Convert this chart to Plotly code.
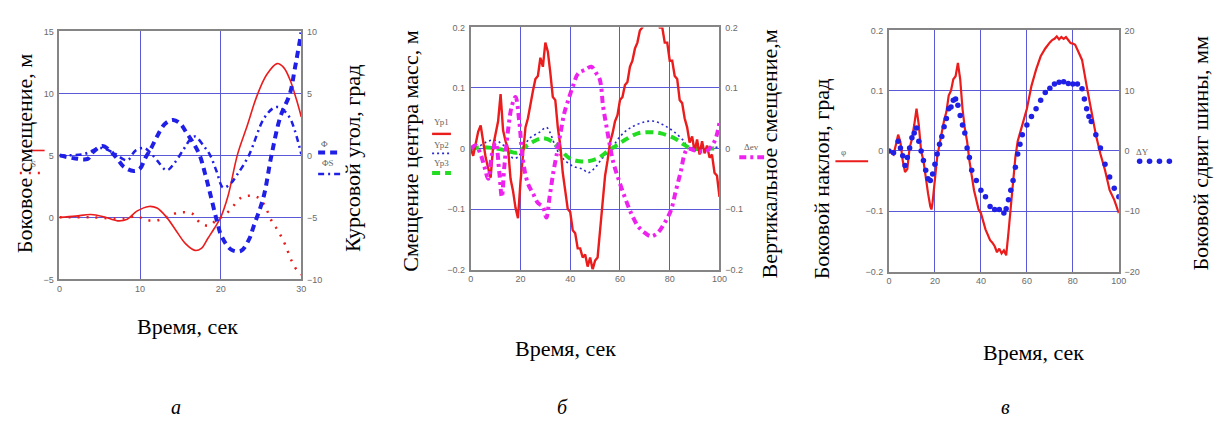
import plotly.graph_objects as go

W, H = 1219, 424

# ---------------- Panel a ----------------
a_x_ticks = [0, 10, 20, 30]
a_yl_ticks = [-5, 0, 5, 10, 15]
a_yr_ticks = [-10, -5, 0, 5, 10]

a_Y_t = [0, 2, 3.9, 5.5, 7.2, 8.4, 9.6, 11.1, 12.1, 13.3, 14.6, 15.6, 16.8, 17.6, 18.4, 19.2, 20,
         20.9, 22.1, 23.3, 24.5, 25.7, 27, 27.8, 28.6, 29.4, 30]
a_Y_v = [0, 0.1, 0.23, 0.05, -0.28, -0.15, 0.5, 0.88, 0.75, 0, -1.2, -2.1, -2.66, -2.5, -1.7, -0.9, 0,
         1.7, 5.1, 7.4, 9.8, 11.5, 12.4, 12.1, 11.1, 9.5, 8.1]

a_S_t = [0, 4, 8, 9.6, 10.5, 11.7, 12.9, 13.7, 14.6, 15.6, 16.6, 17.4, 18.5, 19.5, 20.3, 21.2, 22.5,
         23.7, 24.7, 25.5, 26.3, 27.2, 28, 28.8, 29.5, 30]
a_S_v = [0, 0, -0.1, 0.1, -0.15, -0.28, -0.1, 0.15, 0.36, 0.41, 0.25, -0.41, -0.67, -0.2, 0.1, 0.62, 1.57,
         1.75, 1.57, 0.9, -0.26, -1.17, -2.2, -3.5, -4.3, -4.6]

a_Phi_t = [0, 1.8, 3.5, 4.1, 5.3, 6.3, 7.2, 8, 9.2, 10, 10.7, 11.3, 12.1, 13.1, 14.1, 15, 15.8, 16.6,
           17.4, 18.1, 18.7, 19.5, 20.1, 21.3, 22.5, 23.5, 24.1, 25.3, 26.3, 27.4, 28.6, 29.2, 30]
a_Phi_v = [0, -0.23, -0.28, 0.23, 0.75, 0.36, -0.3, -0.93, -1.26, -1.06, -0.15, 0.49, 1.52, 2.55, 2.86,
           2.55, 1.78, 1.0, 0, -1.57, -3.1, -5.2, -6.5, -7.6, -7.7, -6.8, -5.7, -3.4, 0, 3.1, 5, 7, 9.9]

a_PhiS_t = [0, 3, 5.1, 6.7, 8.4, 9.4, 10.5, 11.3, 12.1, 13.3, 14.2, 15.4, 16.2, 16.8, 17.9, 18.7, 19.5,
            20.3, 21.2, 22, 23.5, 25.3, 26.5, 27.2, 27.8, 28.6, 29.2, 30]
a_PhiS_v = [0, 0.1, 0.6, 0.2, -0.4, 0.36, 0.6, 0.2, -0.41, -1.2, -0.67, 0.49, 1.26, 1.52, 0.75, 0, -1.3,
            -2.6, -2.3, -1.6, 0, 2.9, 3.8, 3.9, 3.65, 3.0, 2.0, 0.1]

# ---------------- Panel b ----------------
b_x_ticks = [0, 20, 40, 60, 80, 100]
b_y_ticks = [-0.2, -0.1, 0, 0.1, 0.2]

b_Yp1_t = list(range(0, 101))
b_Yp1_v = [0, -0.012, 0.008, 0.028, 0.038, 0.012, -0.015, -0.032, -0.048, 0.004,
           0.024, 0.045, 0.09, 0.03, 0.012, 0.0, -0.05, -0.07, -0.098, -0.115,
           -0.055, -0.015, 0.035, 0.05, 0.075, 0.095, 0.115, 0.12, 0.15, 0.135,
           0.175, 0.16, 0.125, 0.085, 0.08, 0.035, 0.005, -0.04, -0.07, -0.1,
           -0.105, -0.135, -0.14, -0.165, -0.165, -0.18, -0.175, -0.195, -0.18, -0.2,
           -0.185, -0.18, -0.135, -0.09, -0.045, -0.02, 0.01, 0.025, 0.045, 0.055,
           0.08, 0.085, 0.105, 0.11, 0.135, 0.145, 0.165, 0.175, 0.195, 0.2,
           0.215, 0.21, 0.225, 0.21, 0.22, 0.215, 0.2, 0.2, 0.175, 0.175,
           0.145, 0.145, 0.12, 0.115, 0.08, 0.075, 0.05, 0.035, 0.01, 0.02,
           -0.005, 0.015, -0.01, 0.012, -0.008, 0.005, -0.015, -0.01, -0.04, -0.045,
           -0.08]

b_Yp2_t = [0, 3, 6.4, 9, 11.7, 14.4, 17, 19, 21, 23.7, 27.7, 30.4, 31.7, 34.4, 37, 41, 45, 47.2, 49.9,
           52.5, 56.5, 60.5, 64.5, 69.9, 73.9, 77.9, 81.9, 85.9, 87.2, 90, 95, 100]
b_Yp2_v = [0, 0.003, 0.011, 0.014, 0.01, 0, -0.016, -0.014, 0, 0.017, 0.027, 0.035, 0.028, 0, -0.016,
           -0.029, -0.034, -0.04, -0.032, -0.018, 0, 0.022, 0.035, 0.044, 0.045, 0.038, 0.027, 0.011, 0,
           0.002, 0.0, 0.003]

b_Yp3_t = [0, 5, 10.4, 15, 18.4, 21, 25, 29, 33, 35.7, 39.7, 43.7, 47.2, 51.2, 55.2, 57.9, 61.9, 67.2,
           72.5, 76.5, 81.9, 85.9, 88.5, 95, 100]
b_Yp3_v = [0, 0.002, 0.0, -0.004, -0.007, 0, 0.011, 0.017, 0.011, 0, -0.016, -0.021, -0.021, -0.016,
           -0.004, 0.003, 0.014, 0.025, 0.027, 0.025, 0.017, 0.006, 0, 0, 0]

b_dev_t = [0, 2, 4, 5.5, 7, 8.5, 10, 11.5, 12.5, 13.5, 15, 16.5, 18, 19.5, 21, 23, 25, 27, 29, 30.4,
           31.7, 33.3, 35, 36.4, 37.7, 39.7, 41, 43.2, 45.9, 48.5, 50.5, 51.9, 53.2, 54.5, 55.9, 57.2,
           59.2, 61.9, 64.5, 67.2, 69.9, 72.5, 75.2, 77.9, 80.5, 82.5, 84.5, 85.9, 87.2, 89.9, 92.5,
           95.2, 97.9, 99.2, 100]
b_dev_v = [0, 0.005, -0.01, -0.03, -0.05, -0.01, 0.01, -0.04, -0.08, -0.03, 0.03, 0.07, 0.085, 0.045,
           -0.02, -0.058, -0.074, -0.09, -0.096, -0.114, -0.08, -0.037, 0, 0.033, 0.06, 0.086, 0.102,
           0.124, 0.13, 0.135, 0.124, 0.114, 0.07, 0.038, 0.006, -0.021, -0.048, -0.08, -0.107, -0.128,
           -0.139, -0.145, -0.139, -0.123, -0.102, -0.069, -0.037, -0.01, 0, -0.003, -0.005, -0.003,
           0.011, 0.027, 0.043]

# ---------------- Panel c ----------------
c_x_ticks = [0, 20, 40, 60, 80, 100]
c_yl_ticks = [-0.2, -0.1, 0, 0.1, 0.2]
c_yr_ticks = [-20, -10, 0, 10, 20]

c_phi_t = [0, 1, 2, 3, 4, 5, 6, 7, 8, 9, 10, 11, 12, 13, 14, 15, 16, 17, 18, 18.5, 19, 20, 21, 22, 23,
           24, 25, 26, 27, 28, 29, 30, 31, 32, 33, 34, 35, 36, 37, 38, 39, 40, 42, 44, 45, 46, 47, 48,
           49, 50, 51, 52, 53, 54, 55, 56, 58, 60, 62, 64, 66, 68, 70, 71, 72, 73, 74, 75, 76, 77, 78,
           79, 80, 81, 82, 84, 86, 88, 90, 92, 94, 96, 98, 100]
c_phi_v = [0, -0.003, -0.006, 0.01, 0.027, 0.015, -0.016, -0.035, -0.03, 0.005, 0.02, 0.043, 0.07,
           0.043, 0.0, -0.016, -0.048, -0.07, -0.092, -0.097, -0.085, -0.048, -0.01, 0.011, 0.032,
           0.051, 0.065, 0.092, 0.1, 0.119, 0.124, 0.146, 0.119, 0.07, 0.038, 0.016, -0.016, -0.043,
           -0.065, -0.081, -0.097, -0.103, -0.13, -0.148, -0.152, -0.158, -0.168, -0.162, -0.17,
           -0.165, -0.173, -0.135, -0.092, -0.049, -0.01, 0.016, 0.043, 0.07, 0.108, 0.135, 0.157,
           0.17, 0.18, 0.184, 0.186, 0.19, 0.185, 0.189, 0.186, 0.189, 0.184, 0.179, 0.178, 0.176,
           0.168, 0.151, 0.108, 0.065, 0.027, -0.005, -0.032, -0.065, -0.081, -0.103]

c_dY_t = [0, 2, 4, 5, 6, 7, 8, 9, 10, 11, 12, 13, 14, 15, 16, 17, 18, 19, 20, 21, 22, 23, 24, 25, 26,
          27, 28, 29, 30, 31, 32, 33, 34, 35, 36, 38, 40, 42, 44, 46, 48, 50, 51, 52, 53, 54, 55, 56,
          57, 58, 60, 62, 64, 66, 68, 70, 72, 74, 76, 78, 80, 82, 84, 85, 86, 87, 88, 90, 92, 94, 96,
          98, 100]
c_dY_v = [0, -0.3, 1.6, 0.5, -0.8, -2.4, -1.1, 0.5, 2.2, 3.0, 3.8, 1.6, 0, -1.6, -3.2, -4.6, -4.9,
          -3.8, -2.2, -0.5, 1.1, 2.4, 4.0, 5.4, 7.0, 7.3, 8.4, 8.6, 7.6, 5.9, 4.3, 3.0, 0.5, -1.1, -3.2,
          -4.9, -6.5, -7.6, -9.2, -9.7, -9.7, -10.3, -9.6, -8.1, -6.5, -4.9, -2.7, -0.5, 1.1, 2.7, 4.3,
          5.7, 7.0, 8.4, 9.7, 10.4, 11.1, 11.4, 11.5, 11.2, 11.1, 11.1, 10.3, 8.6, 7.0, 5.7, 4.9, 2.7,
          0.5, -2.2, -4.3, -6.2, -7.6]

# ---------------- styling ----------------
RED = "#ea1c1c"
BLUE = "#1f1fe6"
MAG = "#ee22ee"
GREEN = "#22dd22"
GRID = "#5a5ad8"
FRAME = "#858585"
TICKF = dict(family="Liberation Sans, Arial", size=9, color="#6a6a6a")
SERIF = "Liberation Serif"


def px(x):
    return x / W


def py(y):
    return 1 - y / H


fig = go.Figure()

# panel a traces
fig.add_trace(go.Scatter(x=a_Y_t, y=a_Y_v, mode="lines", line=dict(color=RED, width=1.6, shape="spline"),
                         xaxis="x", yaxis="y"))
fig.add_trace(go.Scatter(x=a_S_t, y=a_S_v, mode="lines",
                         line=dict(color=RED, width=2.5, dash="2px,7px", shape="spline"), xaxis="x", yaxis="y"))
fig.add_trace(go.Scatter(x=a_Phi_t, y=a_Phi_v, mode="lines",
                         line=dict(color=BLUE, width=4, dash="7px,5px", shape="spline"), xaxis="x", yaxis="y2"))
fig.add_trace(go.Scatter(x=a_PhiS_t, y=a_PhiS_v, mode="lines",
                         line=dict(color=BLUE, width=2.5, dash="6px,4px,2px,4px", shape="spline"),
                         xaxis="x", yaxis="y2"))

# panel b traces
fig.add_trace(go.Scatter(x=b_dev_t, y=b_dev_v, mode="lines",
                         line=dict(color=MAG, width=4, dash="7px,4px,3px,4px", shape="spline"),
                         xaxis="x2", yaxis="y4"))
fig.add_trace(go.Scatter(x=b_Yp2_t, y=b_Yp2_v, mode="lines",
                         line=dict(color="#2a2ad0", width=1.6, dash="2px,3px", shape="spline"),
                         xaxis="x2", yaxis="y3"))
fig.add_trace(go.Scatter(x=b_Yp3_t, y=b_Yp3_v, mode="lines",
                         line=dict(color=GREEN, width=4, dash="8px,5px", shape="spline"),
                         xaxis="x2", yaxis="y3"))
fig.add_trace(go.Scatter(x=b_Yp1_t, y=b_Yp1_v, mode="lines", line=dict(color=RED, width=2.4),
                         xaxis="x2", yaxis="y3"))

# panel c traces
fig.add_trace(go.Scatter(x=c_phi_t, y=c_phi_v, mode="lines", line=dict(color=RED, width=2.2),
                         xaxis="x3", yaxis="y5"))
fig.add_trace(go.Scatter(x=c_dY_t, y=c_dY_v, mode="markers",
                         marker=dict(color=BLUE, size=5.5), xaxis="x3", yaxis="y6"))


def xax(dom, rng, ticks, anchor):
    return dict(domain=dom, range=rng, tickvals=ticks, showgrid=True, gridcolor=GRID, gridwidth=1,
                showline=True, linecolor=FRAME, linewidth=1.8, mirror=True, zeroline=False,
                ticks="", tickfont=TICKF, anchor=anchor, fixedrange=True)


def yax(dom, rng, ticks, anchor, side="left", overlay=None):
    d = dict(range=rng, tickvals=ticks, showline=True, linecolor=FRAME, linewidth=1.8, zeroline=False,
             ticks="", tickfont=TICKF, anchor=anchor, side=side, fixedrange=True, ticklabelstandoff=2)
    if overlay:
        d.update(overlaying=overlay, showgrid=False)
    else:
        d.update(domain=dom, showgrid=True, gridcolor=GRID, gridwidth=1)
    return d


a_xd = [px(57), px(301)]
a_yd = [py(281), py(27)]
b_xd = [px(472), px(723)]
b_yd = [py(271), py(23)]
c_xd = [px(894), px(1126)]
c_yd = [py(273), py(26)]

layout = dict(
    width=W, height=H, margin=dict(l=0, r=0, t=0, b=0), showlegend=False,
    paper_bgcolor="white", plot_bgcolor="white",
    xaxis=xax(a_xd, [0, 30], a_x_ticks, "y"),
    yaxis=yax(a_yd, [-5, 15], a_yl_ticks, "x"),
    yaxis2=yax(None, [-10, 10], a_yr_ticks, "x", "right", "y"),
    xaxis2=xax(b_xd, [0, 100], b_x_ticks, "y3"),
    yaxis3=yax(b_yd, [-0.2, 0.2], b_y_ticks, "x2"),
    yaxis4=yax(None, [-0.2, 0.2], b_y_ticks, "x2", "right", "y3"),
    xaxis3=xax(c_xd, [0, 100], c_x_ticks, "y5"),
    yaxis5=yax(c_yd, [-0.2, 0.2], c_yl_ticks, "x3"),
    yaxis6=yax(None, [-20, 20], c_yr_ticks, "x3", "right", "y5"),
)
fig.update_layout(**layout)

ann = []


def text(x, y, s, size=22, angle=0, color="black", family=SERIF):
    ann.append(dict(x=px(x), y=py(y), xref="paper", yref="paper", text=s, showarrow=False,
                    textangle=angle, font=dict(family=family, size=size, color=color),
                    xanchor="center", yanchor="middle"))


# axis titles
text(22, 152, "Боковое смещение, м", angle=-90)
text(352, 157, "Курсовой угол, град", angle=-90)
text(411, 150, "Смещение центра масс, м", angle=-90)
text(773, 153, "Вертикальное смещение,м", angle=-90)
text(826, 178, "Боковой наклон, град", angle=-90)
text(1208, 152, "Боковой сдвиг шины, мм", angle=-90)
text(186, 329, "Время, сек")
text(568, 352, "Время, сек")
text(1040, 356, "Время, сек")
text(175, 412, "<i>а</i>", size=20)
text(565, 412, "<i>б</i>", size=20)
text(1012, 412, "<i>в</i>", size=20)

# mini legends (labels)
small = dict(size=9, color="#666666", family="Liberation Serif")
text(31, 163, "S", **small)
text(324, 142, "Φ", **small)
text(328, 162, "ΦS", **small)
text(442, 120, "Yp1", **small)
text(442, 143, "Yp2", **small)
text(442, 162, "Yp3", **small)
text(755, 145, "Δev", **small)
text(848, 151, "φ", **small)
text(1150, 151, "ΔY", **small)

shapes = []


def seg(x0, x1, y, color, width, dash="solid"):
    shapes.append(dict(type="line", xref="paper", yref="paper", x0=px(x0), x1=px(x1), y0=py(y), y1=py(y),
                       line=dict(color=color, width=width, dash=dash)))


seg(26, 42, 149, RED, 1.6)
seg(17, 38, 172, RED, 2.5, "2px,7px")
seg(318, 342, 151, BLUE, 4, "7px,5px")
seg(318, 342, 173, BLUE, 2.5, "6px,4px,2px,4px")
seg(433, 452, 132, RED, 2.4)
seg(433, 452, 152, "#2a2ad0", 1.6, "2px,3px")
seg(433, 452, 172, GREEN, 4, "8px,5px")
seg(743, 768, 156, MAG, 4, "7px,4px,3px,4px")
seg(840, 873, 160, RED, 2.2)
for cx in [1147, 1157, 1167, 1177]:
    shapes.append(dict(type="circle", xref="paper", yref="paper", x0=px(cx - 2.8), x1=px(cx + 2.8),
                       y0=py(160 + 2.8), y1=py(160 - 2.8), fillcolor=BLUE, line=dict(width=0)))

fig.update_layout(annotations=ann, shapes=shapes)
fig.write_html("out.html")
